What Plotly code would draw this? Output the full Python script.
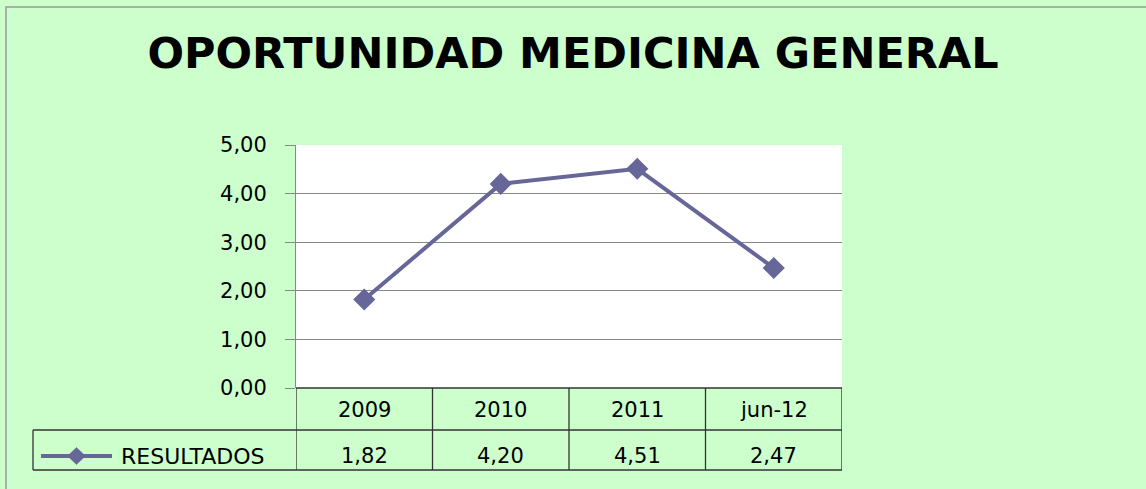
import plotly.graph_objects as go

categories = ["2009", "2010", "2011", "jun-12"]
values = [1.82, 4.20, 4.51, 2.47]
value_labels = ["1,82", "4,20", "4,51", "2,47"]
series_name = "RESULTADOS"
title_text = "OPORTUNIDAD MEDICINA GENERAL"

W, H = 1146, 489
L, R, T, B = 296, 842, 145, 388
LINE_COLOR = "#666699"
BG = "#CCFFCC"
FONT = "DejaVu Sans"

def px(xp):
    return (xp - L) / (R - L)

def py(yp):
    return (B - yp) / (B - T)

fig = go.Figure()
fig.add_trace(go.Scatter(
    x=list(range(len(categories))), y=values, mode="lines+markers",
    line=dict(color=LINE_COLOR, width=4),
    marker=dict(symbol="diamond", size=17, color=LINE_COLOR),
    name=series_name, showlegend=False, cliponaxis=False,
))

shapes = []
border = "#333333"
for y0 in [388, 430, 470]:
    x0 = L if y0 == 388 else 33
    shapes.append(dict(type="line", xref="paper", yref="paper", x0=px(x0), x1=px(R),
                       y0=py(y0), y1=py(y0), line=dict(color=border, width=1.3)))
for i in range(len(categories) + 1):
    shapes.append(dict(type="line", xref="x", yref="paper", x0=i - 0.5, x1=i - 0.5,
                       y0=py(388), y1=py(470), line=dict(color=border, width=1.3)))
shapes.append(dict(type="line", xref="paper", yref="paper", x0=px(33), x1=px(33),
                   y0=py(430), y1=py(470), line=dict(color=border, width=1.3)))
# legend key line + diamond
shapes.append(dict(type="line", xref="paper", yref="paper", x0=px(41), x1=px(112),
                   y0=py(456), y1=py(456), line=dict(color=LINE_COLOR, width=4)))
shapes.append(dict(type="path", xref="paper", yref="paper", xsizemode="pixel", ysizemode="pixel",
                   xanchor=px(76.5), yanchor=py(456), path="M0,8.5 L9,0 L0,-8.5 L-9,0 Z",
                   fillcolor=LINE_COLOR, line=dict(color=LINE_COLOR, width=0.5)))
# outer chart border
shapes.append(dict(type="rect", xref="paper", yref="paper", x0=px(6), x1=px(1160),
                   y0=py(7), y1=py(500), line=dict(color="#999999", width=1.5)))

annotations = []
for i, (c, v) in enumerate(zip(categories, value_labels)):
    annotations.append(dict(x=i, y=py(410), xref="x", yref="paper", text=c, showarrow=False,
                            yanchor="middle", xanchor="center",
                            font=dict(family=FONT, size=21, color="black")))
    annotations.append(dict(x=i, y=py(456), xref="x", yref="paper", text=v, showarrow=False,
                            yanchor="middle", xanchor="center",
                            font=dict(family=FONT, size=21, color="black")))
annotations.append(dict(x=px(119), y=py(456), xref="paper", yref="paper", text=series_name,
                        showarrow=False, xanchor="left", yanchor="middle",
                        font=dict(family=FONT, size=22, color="black")))

fig.update_layout(
    width=W, height=H,
    paper_bgcolor=BG, plot_bgcolor="white",
    margin=dict(l=L, r=W - R, t=T, b=H - B, pad=0),
    separators=",.",
    title=dict(text="<b>" + title_text + "</b>", x=0.5, xanchor="center", y=1 - 53 / H,
               yanchor="middle", font=dict(family=FONT, size=43, color="black")),
    xaxis=dict(range=[-0.5, len(categories) - 0.5], showticklabels=False, showgrid=False,
               zeroline=False, showline=False, fixedrange=True),
    yaxis=dict(range=[0, 5], dtick=1, tickformat=".2f", showgrid=True, gridcolor="#888888",
               gridwidth=1, zeroline=False, showline=True, linecolor="#888888", linewidth=1,
               ticks="outside", ticklen=10, tickcolor="#888888", ticklabelstandoff=14,
               tickfont=dict(family=FONT, size=21, color="black")),
    shapes=shapes, annotations=annotations,
)

fig.write_html("out.html", config={"displayModeBar": False},
               post_script="document.body.style.margin='0';document.body.style.overflow='hidden';")
